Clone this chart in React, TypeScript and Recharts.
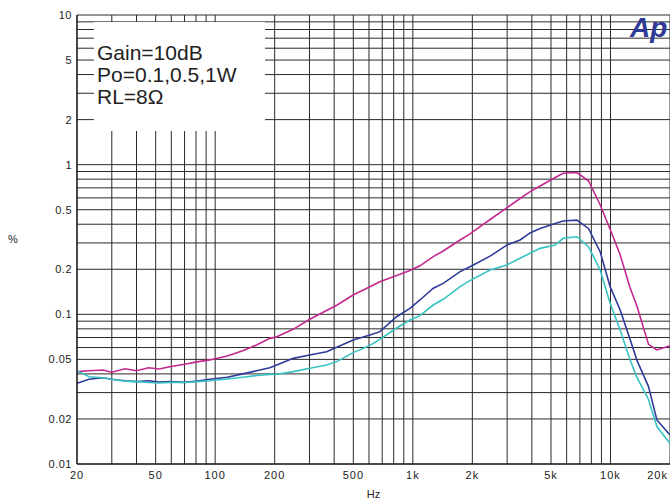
import { LineChart, Line, XAxis, YAxis, CartesianGrid } from "recharts";

// frequency points of the sweep (Hz)
const FREQS = [
    20, 23, 27, 30, 35, 40, 46, 52, 59, 70, 81, 94, 115, 138, 162, 189, 205, 248, 301, 366,
    412, 499, 607, 681, 828, 967, 1086, 1269, 1425, 1734, 1946, 2459, 2987, 3487, 3919, 4404,
    5254, 5758, 6760, 7737, 8864, 9955, 11190, 12570, 13590, 15570, 17170, 20000,
];

// THD+N (%) per trace
const MAGENTA = [
    0.0414, 0.042, 0.0425, 0.041, 0.0433, 0.042, 0.044, 0.0431, 0.0446, 0.0464, 0.0481, 0.0496,
    0.0527, 0.0571, 0.0624, 0.0691, 0.0709, 0.0794, 0.0927, 0.106, 0.115, 0.1346, 0.153, 0.165,
    0.182, 0.196, 0.211, 0.243, 0.265, 0.314, 0.345, 0.43, 0.515, 0.594, 0.66, 0.72,
    0.82, 0.876, 0.886, 0.781, 0.54, 0.37, 0.25, 0.15, 0.114, 0.063, 0.0578, 0.0617,
];
const BLUE = [
    0.0346, 0.0368, 0.0377, 0.0368, 0.036, 0.0355, 0.036, 0.0353, 0.0355, 0.0351, 0.0358, 0.0368,
    0.038, 0.04, 0.042, 0.044, 0.0459, 0.0508, 0.0535, 0.0563, 0.0602, 0.0674, 0.0728, 0.0766,
    0.0964, 0.1097, 0.1247, 0.1494, 0.161, 0.193, 0.208, 0.245, 0.29, 0.314, 0.35, 0.375,
    0.405, 0.42, 0.426, 0.375, 0.262, 0.153, 0.107, 0.068, 0.0495, 0.0329, 0.0197, 0.0156,
];
const CYAN = [
    0.042, 0.0383, 0.0377, 0.0368, 0.0358, 0.0355, 0.035, 0.0348, 0.0351, 0.035, 0.0355, 0.036,
    0.037, 0.038, 0.039, 0.0397, 0.0398, 0.0414, 0.0436, 0.0459, 0.0483, 0.0555, 0.062, 0.068,
    0.081, 0.0917, 0.098, 0.1154, 0.126, 0.153, 0.168, 0.198, 0.2137, 0.237, 0.2557, 0.276,
    0.29, 0.322, 0.33, 0.283, 0.198, 0.1185, 0.0786, 0.0495, 0.038, 0.027, 0.0178, 0.0137,
];

// grid positions and labels
const X_GRID = [
    20, 30, 40, 50, 60, 70, 80, 90, 100, 200, 300, 400, 500, 600, 700, 800, 900,
    1000, 2000, 3000, 4000, 5000, 6000, 7000, 8000, 9000, 10000, 20000,
];
const X_LABELS: Record<number, string> = {
    20: "20", 50: "50", 100: "100", 200: "200", 500: "500",
    1000: "1k", 2000: "2k", 5000: "5k", 10000: "10k", 20000: "20k",
};
const Y_GRID = [
    0.01, 0.02, 0.03, 0.04, 0.05, 0.06, 0.07, 0.08, 0.09,
    0.1, 0.2, 0.3, 0.4, 0.5, 0.6, 0.7, 0.8, 0.9,
    1, 2, 3, 4, 5, 6, 7, 8, 9, 10,
];
const Y_LABELS: Record<number, string> = {
    0.01: "0.01", 0.02: "0.02", 0.05: "0.05", 0.1: "0.1", 0.2: "0.2", 0.5: "0.5",
    1: "1", 2: "2", 5: "5", 10: "10",
};
const NOTES = ["Gain=10dB", "Po=0.1,0.5,1W", "RL=8Ω"];

const data = FREQS.map((f, i) => ({ f, m: MAGENTA[i], b: BLUE[i], c: CYAN[i] }));

const FONT = "'Liberation Sans', Arial, sans-serif";

function XTick(props: any) {
    const { x, y, payload } = props;
    const label = X_LABELS[payload.value];
    if (!label) return null;
    const last = payload.value === 20000;
    return (
        <text
            x={last ? x - 2 : x}
            y={y}
            dy="0.71em"
            textAnchor={last ? "end" : "middle"}
            fontSize={11}
            letterSpacing={1}
            fill="#222"
            fontFamily={FONT}
        >
            {label}
        </text>
    );
}

export default function App() {
    return (
        <div style={{ position: "absolute", left: 0, top: 0, width: 670, height: 501, background: "#fff" }}>
            <LineChart width={670} height={501} data={data} margin={{ top: 15, right: 0, bottom: 0, left: 0 }}>
                <CartesianGrid stroke="#2a2a2a" strokeWidth={1} />
                <XAxis
                    dataKey="f"
                    type="number"
                    scale="log"
                    domain={[20, 20000]}
                    ticks={X_GRID}
                    interval={0}
                    height={37}
                    tickLine={false}
                    tickSize={0}
                    tickMargin={7}
                    tick={<XTick />}
                    axisLine={{ stroke: "#000" }}
                    allowDataOverflow
                    label={{ value: "Hz", position: "insideBottom", offset: 3, fontSize: 11, fill: "#222", fontFamily: FONT }}
                />
                <YAxis
                    type="number"
                    scale="log"
                    domain={[0.01, 10]}
                    ticks={Y_GRID}
                    interval={0}
                    width={77}
                    tickLine={false}
                    tickSize={0}
                    tickMargin={5}
                    tickFormatter={(v: number) => Y_LABELS[v] ?? ""}
                    tick={{ fontSize: 11, fill: "#222", fontFamily: FONT, letterSpacing: 0.5 }}
                    axisLine={{ stroke: "#000" }}
                    allowDataOverflow
                    label={{ value: "%", position: "insideLeft", offset: 8, fontSize: 11, fill: "#222", fontFamily: FONT }}
                />
                <Line dataKey="m" stroke="#c2288f" strokeWidth={1.6} dot={false} isAnimationActive={false} />
                <Line dataKey="b" stroke="#2f3b9a" strokeWidth={1.6} dot={false} isAnimationActive={false} />
                <Line dataKey="c" stroke="#37c3c3" strokeWidth={1.6} dot={false} isAnimationActive={false} />
            </LineChart>
            <svg
                width={670}
                height={501}
                style={{ position: "absolute", left: 0, top: 0, pointerEvents: "none" }}
            >
                <rect x={94} y={22} width={171} height={109} fill="#fff" />
                {NOTES.map((t, i) => (
                    <text key={t} x={97} y={60 + i * 22} fontSize={21} fill="#222" fontFamily={FONT}>
                        {t}
                    </text>
                ))}
                <text x={630} y={37} fontSize={28} fontWeight="bold" fontStyle="italic" fill="#2e3a95" fontFamily={FONT}>
                    Ap
                </text>
            </svg>
        </div>
    );
}
